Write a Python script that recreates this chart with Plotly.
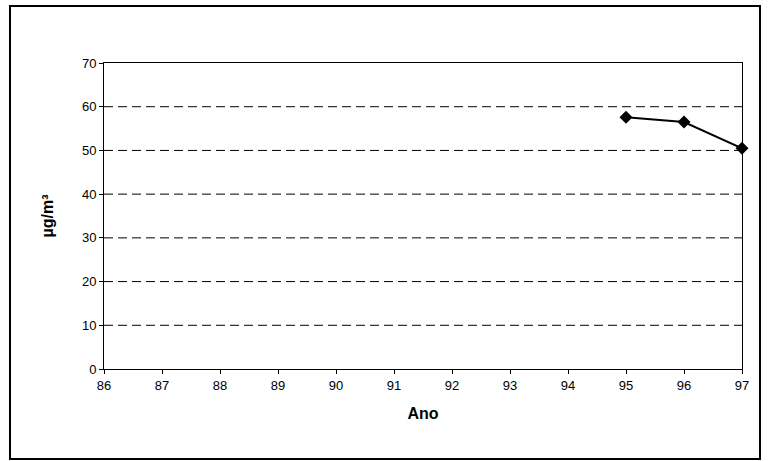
# Annual mean concentration, yearly line with diamond markers.
import plotly.graph_objects as go

years = [95, 96, 97]
values = [57.6, 56.5, 50.5]
x_ticks = list(range(86, 98))
y_ticks = list(range(0, 80, 10))

W, H = 769, 461
L, R, T, B = 104, 742, 63, 369

def px(x):
    return (x - L) / (R - L)

def py(y):
    return (B - y) / (B - T)

fig = go.Figure()
fig.add_trace(go.Scatter(
    x=years, y=values, mode="lines+markers",
    line=dict(color="black", width=2),
    marker=dict(symbol="diamond", size=10, color="black"),
    showlegend=False, cliponaxis=False,
))

for v in y_ticks[1:-1]:
    fig.add_shape(type="line", xref="x", yref="y", x0=86, x1=97, y0=v, y1=v,
                  line=dict(color="black", width=1, dash="9px,5px"), layer="below")

# outer frame
fig.add_shape(type="rect", xref="paper", yref="paper",
              x0=px(10), x1=px(760), y0=py(459), y1=py(6),
              line=dict(color="black", width=2))

font = dict(family="Liberation Sans, Arial, sans-serif", size=13, color="black")
fig.update_layout(
    width=W, height=H,
    margin=dict(l=L, r=W - R, t=T, b=H - B),
    paper_bgcolor="white", plot_bgcolor="white",
    font=font,
    xaxis=dict(range=[86, 97], tickvals=x_ticks, showgrid=False, zeroline=False,
               showline=True, linecolor="black", linewidth=1, mirror=True,
               ticks="outside", ticklen=4, tickcolor="black",
               title=dict(text="<b>Ano</b>", standoff=16)),
    yaxis=dict(range=[0, 70], tickvals=y_ticks, showgrid=False, zeroline=False,
               showline=True, linecolor="black", linewidth=1, mirror=True,
               ticks="outside", ticklen=4, tickcolor="black",
               title=dict(text="<b>µg/m³</b>", standoff=24)),
)

fig.write_html("out.html", config={"displayModeBar": False},
               post_script="document.body.style.margin='0';")
